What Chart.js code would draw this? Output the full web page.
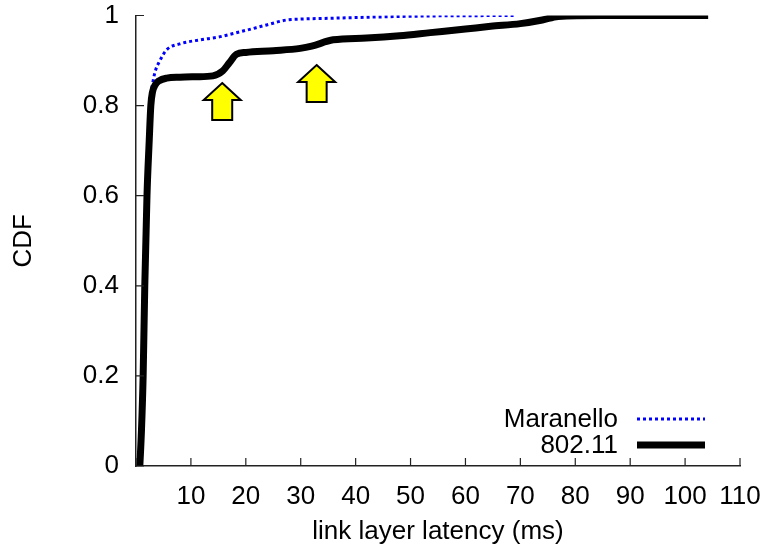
<!DOCTYPE html>
<html>
<head>
<meta charset="utf-8">
<script src="https://cdn.jsdelivr.net/npm/chart.js@4"></script>
<style>
  html, body { margin: 0; padding: 0; background: #fff; }
  #wrap { width: 765px; height: 549px; }
</style>
</head>
<body>
<div id="wrap"><canvas id="cdfChart" width="765" height="549"></canvas></div>
<script>
// CDF of link layer latency
const maranelloMs = [0.7, 1.0, 1.3, 1.6, 1.9, 2.2, 2.55, 2.8, 3.15, 3.6, 4.1, 5.6, 8, 11.7, 15, 17.7, 20, 23.8, 27.4, 30, 35.9, 45, 53.6, 69.2];
const maranelloCdf = [0, 0.1, 0.25, 0.45, 0.6, 0.72, 0.79, 0.83, 0.857, 0.88, 0.894, 0.924, 0.937, 0.946, 0.952, 0.96, 0.967, 0.979, 0.99, 0.992, 0.994, 0.997, 0.999, 1.0];

const wifiMs = [0.7, 1.0, 1.3, 1.6, 2.0, 2.4, 2.7, 3.0, 3.5, 4.2, 5.6, 8, 11, 14, 15.8, 17, 18.3, 20, 25, 29.9, 32, 35.9, 42, 48, 53.6, 60, 64.6, 70, 74, 76.9, 85, 104.2];
const wifiCdf = [0, 0.08, 0.2, 0.4, 0.6, 0.72, 0.8, 0.83, 0.846, 0.855, 0.861, 0.863, 0.864, 0.866, 0.877, 0.895, 0.914, 0.918, 0.922, 0.927, 0.932, 0.946, 0.95, 0.955, 0.962, 0.97, 0.976, 0.982, 0.99, 0.998, 1.0, 1.0];

// yellow arrows marking the steps in the 802.11 curve (ms, cdf at the tip)
const arrowMs = [15.7, 32.9];
const arrowTip = [0.85, 0.89];

const FONT = '"Liberation Sans", Arial, Helvetica, sans-serif';
const FSIZE = 26;

const toPoints = (xs, ys) => xs.map((x, i) => ({ x: x, y: ys[i] }));

// inward ticks, gnuplot style
const tickPlugin = {
  id: 'inTicks',
  afterDraw(chart) {
    const ctx = chart.ctx;
    const { left, bottom } = chart.chartArea;
    const xs = chart.scales.x, ys = chart.scales.y;
    ctx.save();
    ctx.strokeStyle = '#222';
    ctx.lineWidth = 1.2;
    ctx.beginPath();
    xs.ticks.forEach(t => {
      const px = xs.getPixelForValue(t.value);
      ctx.moveTo(px, bottom);
      ctx.lineTo(px, bottom - 8);
    });
    ys.ticks.forEach(t => {
      const py = ys.getPixelForValue(t.value);
      ctx.moveTo(left, py);
      ctx.lineTo(left + 8, py);
    });
    ctx.stroke();
    ctx.restore();
  }
};

const arrowPlugin = {
  id: 'arrows',
  afterDatasetsDraw(chart) {
    const ctx = chart.ctx;
    const xs = chart.scales.x, ys = chart.scales.y;
    ctx.save();
    arrowMs.forEach((ms, i) => {
      const cx = xs.getPixelForValue(ms);
      const ty = ys.getPixelForValue(arrowTip[i]);
      ctx.beginPath();
      ctx.moveTo(cx, ty);
      ctx.lineTo(cx + 18.5, ty + 17);
      ctx.lineTo(cx + 10, ty + 17);
      ctx.lineTo(cx + 10, ty + 37);
      ctx.lineTo(cx - 10, ty + 37);
      ctx.lineTo(cx - 10, ty + 17);
      ctx.lineTo(cx - 18.5, ty + 17);
      ctx.closePath();
      ctx.fillStyle = '#ffff00';
      ctx.fill();
      ctx.lineWidth = 2;
      ctx.strokeStyle = '#000';
      ctx.lineJoin = 'miter';
      ctx.stroke();
    });
    ctx.restore();
  }
};

// legend inside the plot, text left of the line sample
const keyPlugin = {
  id: 'insideKey',
  afterDraw(chart) {
    const ctx = chart.ctx;
    const { right, bottom } = chart.chartArea;
    ctx.save();
    ctx.font = FSIZE + 'px ' + FONT;
    ctx.textAlign = 'right';
    ctx.textBaseline = 'middle';
    chart.data.datasets.forEach((ds, i) => {
      const y = bottom - 47 + i * 26;
      ctx.fillStyle = '#000';
      ctx.fillText(ds.label, right - 122, y + 1);
      ctx.beginPath();
      ctx.strokeStyle = ds.borderColor;
      ctx.lineWidth = ds.borderWidth;
      ctx.setLineDash(ds.borderDash || []);
      ctx.moveTo(right - 103, y);
      ctx.lineTo(right - 35, y);
      ctx.stroke();
    });
    ctx.restore();
  }
};

new Chart(document.getElementById('cdfChart'), {
  type: 'line',
  data: {
    datasets: [
      {
        label: 'Maranello',
        data: toPoints(maranelloMs, maranelloCdf),
        borderColor: '#0000ff',
        borderWidth: 3,
        borderDash: [3, 3],
        pointRadius: 0,
        fill: false,
        cubicInterpolationMode: 'monotone',
        order: 1,
      },
      {
        label: '802.11',
        data: toPoints(wifiMs, wifiCdf),
        borderColor: '#000000',
        borderWidth: 7,
        pointRadius: 0,
        fill: false,
        cubicInterpolationMode: 'monotone',
        borderCapStyle: 'butt',
        order: 0,
      },
    ],
  },
  options: {
    responsive: false,
    animation: false,
    layout: { padding: { top: 15.5, right: 25, left: 0, bottom: 0 } },
    plugins: { legend: { display: false }, tooltip: { enabled: false } },
    scales: {
      x: {
        type: 'linear',
        min: 0,
        max: 110,
        afterFit: (s) => { s.height = 83; s.paddingRight = 0; s.paddingLeft = 0; },
        ticks: {
          stepSize: 10,
          padding: 15,
          color: '#000',
          font: { family: FONT, size: FSIZE },
          maxRotation: 0,
          autoSkip: false,
          callback: (v) => (v === 0 ? '' : v),
        },
        grid: { drawOnChartArea: false, drawTicks: false },
        border: { display: true, color: '#222', width: 1.5 },
        title: {
          display: true,
          text: 'link layer latency (ms)',
          color: '#000',
          font: { family: FONT, size: FSIZE },
          padding: { top: 0, bottom: 2 },
        },
      },
      y: {
        type: 'linear',
        min: 0,
        max: 1,
        afterFit: (s) => { s.width = 136; s.paddingTop = 0; s.paddingBottom = 0; },
        ticks: {
          stepSize: 0.2,
          padding: 17,
          color: '#000',
          font: { family: FONT, size: FSIZE },
          callback: (v) => String(Math.round(v * 10) / 10),
        },
        grid: { drawOnChartArea: false, drawTicks: false },
        border: { display: true, color: '#222', width: 1.5 },
        title: {
          display: true,
          text: 'CDF',
          color: '#000',
          font: { family: FONT, size: FSIZE },
          padding: { top: 8, bottom: 0 },
        },
      },
    },
  },
  plugins: [tickPlugin, arrowPlugin, keyPlugin],
});
</script>
</body>
</html>
